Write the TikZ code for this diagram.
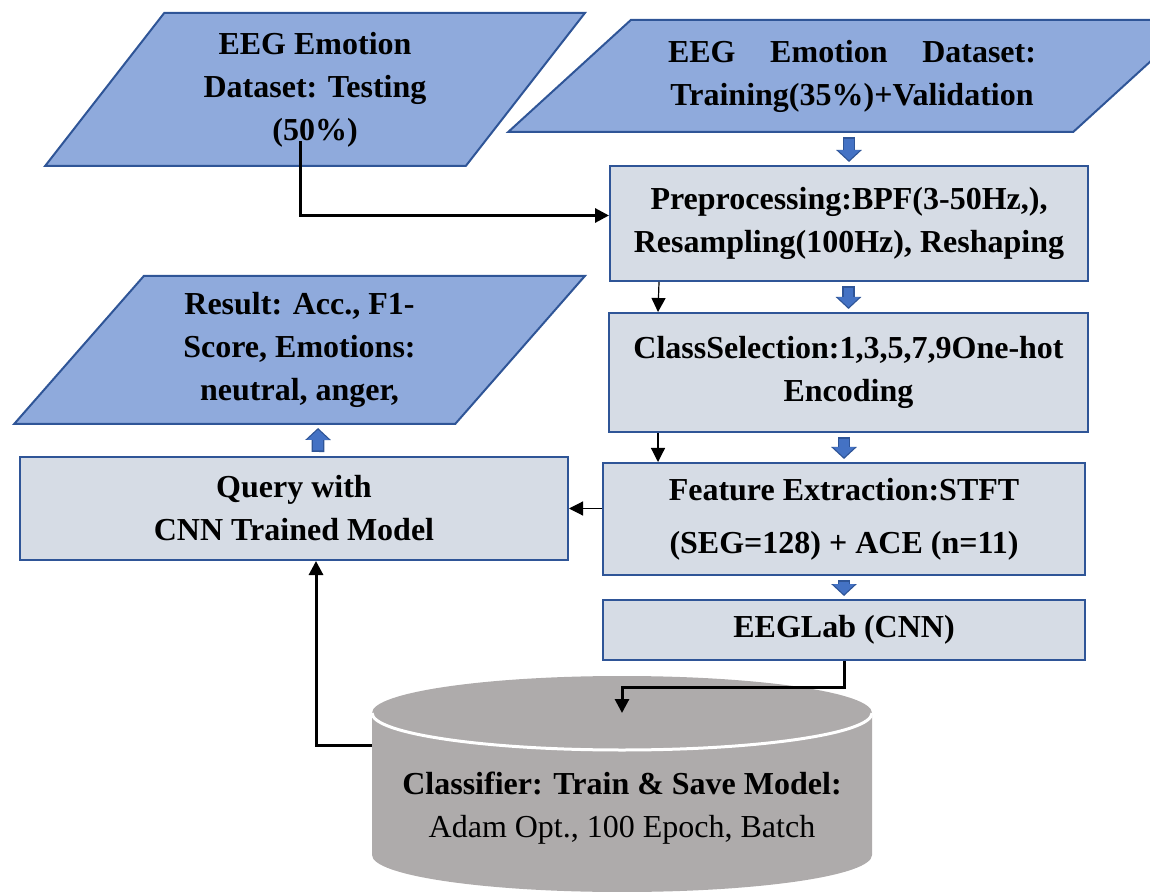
\documentclass[tikz,border=0pt]{standalone}
\usepackage{fontspec}
\setmainfont{Liberation Serif}
\usetikzlibrary{shapes.geometric,arrows.meta}
\definecolor{iofill}{HTML}{8FAADC}
\definecolor{ioline}{HTML}{2F5597}
\definecolor{boxfill}{HTML}{D6DCE5}
\definecolor{boxline}{HTML}{2F5597}
\definecolor{arrowblue}{HTML}{4472C4}
\definecolor{cylfill}{HTML}{AEABAB}
\begin{document}
\begin{tikzpicture}[x=0.5pt,y=-0.5pt,
    font=\fontsize{16}{21.5}\selectfont\bfseries,
    iobox/.style={trapezium,trapezium stretches=true,draw=ioline,fill=iofill,line width=1pt,align=center},
    procbox/.style={draw=boxline,fill=boxfill,line width=1pt,align=center},
    blockarrow/.style={arrowblue,line width=4.8pt,-{Triangle[length=5pt,width=10.5pt]},shorten <=2.8pt,shorten >=2.4pt,
      preaction={draw=ioline,line width=6.3pt,-{Triangle[length=6pt,width=12.5pt]},shorten <=2pt,shorten >=1.5pt}},
    flow/.style={line width=1.5pt,-{Triangle[length=7pt,width=7pt]}},
    thinflow/.style={line width=0.6pt,-{Triangle[length=7pt,width=7pt]}}]
  \useasboundingbox (0,0) rectangle (1150,892);
  \clip (0,0) rectangle (1150,892);
  \node[iobox,trapezium left angle=54,trapezium right angle=126,minimum width=270pt,minimum height=76.5pt]
    (test) at (315,89.5) {EEG Emotion\\Dataset: Testing\\(50\%)};
  \node[iobox,trapezium left angle=39,trapezium right angle=141,minimum width=344pt,minimum height=56pt]
    (train) at (852,76) {\makebox[184pt][s]{EEG Emotion Dataset:}\\Training(35\%)+Validation};
  \node[iobox,trapezium left angle=51.5,trapezium right angle=128.5,minimum width=285.5pt,minimum height=74pt]
    (result) at (299.5,350) {Result: Acc., F1-\\Score, Emotions:\\neutral, anger,};
  \node[procbox,minimum width=239pt,minimum height=57.5pt] (pre) at (849,223.5) {Preprocessing:BPF(3-50Hz,),\\Resampling(100Hz), Reshaping};
  \node[procbox,minimum width=239.5pt,minimum height=59.5pt] (cls) at (848.5,372.5) {ClassSelection:1,3,5,7,9One-hot\\Encoding};
  \node[procbox,minimum width=241pt,minimum height=56pt] (feat) at (844,519) {Feature Extraction:STFT\\[5pt](SEG=128) + ACE (n=11)};
  \node[procbox,minimum width=241pt,minimum height=30pt] (lab) at (844,630) {EEGLab (CNN)};
  \node[procbox,minimum width=274pt,minimum height=51.5pt] (query) at (294,508.5) {Query with\\CNN Trained Model};
  \fill[cylfill] (372,713) -- (372,855) arc[start angle=180,end angle=0,x radius=250,y radius=37]
    -- (872,713) arc[start angle=0,end angle=-180,x radius=250,y radius=37] -- cycle;
  \draw[white,line width=1.5pt] (372,713) arc[start angle=180,end angle=0,x radius=250,y radius=37];
  \coordinate (clftop) at (622,713);
  \coordinate (clfleft) at (372,745);
  \node[align=center] (clf) at (622,808) {Classifier: Train \& Save Model:\\\mdseries Adam Opt., 100 Epoch, Batch};
  \draw[blockarrow] (train.south -| pre.north) -- (pre.north);
  \foreach \a/\b in {pre/cls,cls/feat,feat/lab}
    \draw[blockarrow] (\a.south -| \b.north) -- (\b.north);
  \draw[blockarrow] ([xshift=12pt]query.north) -- ([xshift=9.25pt]result.south);
  \draw[thinflow] ([xshift=25pt]pre.south west) -- ([xshift=25pt]cls.north west);
  \draw[thinflow] ([xshift=25pt]cls.south west) -- ([xshift=28pt]feat.north west);
  \draw[thinflow] (feat.west |- query.east) -- (query.east);
  \draw[flow] ([xshift=-7.5pt,yshift=13pt]test.south) |- ([yshift=4pt]pre.west);
  \draw[flow] (lab.south) -- ++(0,26) -| (clftop);
  \draw[flow] (clfleft) -| ([xshift=11pt]query.south);
\end{tikzpicture}
\end{document}
